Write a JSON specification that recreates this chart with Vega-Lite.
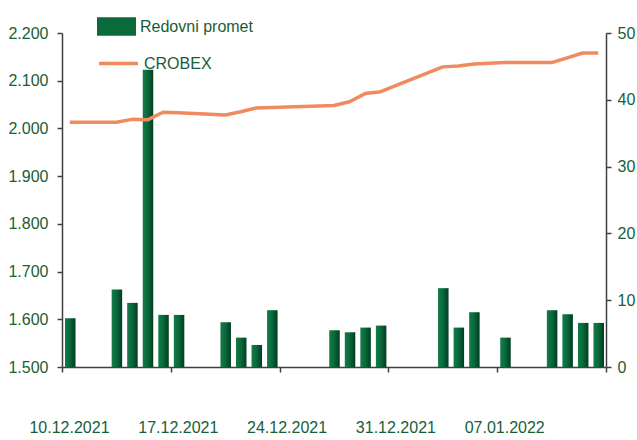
{
  "$schema": "https://vega.github.io/schema/vega-lite/v6.json",
  "width": 544,
  "height": 334,
  "autosize": "none",
  "padding": {"left": 62, "top": 33, "right": 31, "bottom": 73},
  "background": "white",
  "config": {
    "view": {"stroke": null},
    "font": "Liberation Sans, Arial, sans-serif",
    "axis": {
      "grid": false,
      "domainColor": "#404040",
      "domainWidth": 1.5,
      "tickColor": "#404040",
      "tickWidth": 1.5,
      "tickSize": 5,
      "labelColor": "#175e38",
      "labelFontSize": 16,
      "labelFont": "Liberation Sans, Arial, sans-serif",
      "labelOverlap": false,
      "labelFlush": false,
      "title": null
    },
    "legend": {
      "labelColor": "#175e38",
      "labelFontSize": 16,
      "labelFont": "Liberation Sans, Arial, sans-serif",
      "padding": 0,
      "title": null
    }
  },
  "datasets": {
    "promet": [
      {"date": "2021-12-10", "promet": 7.3},
      {"date": "2021-12-13", "promet": 11.6},
      {"date": "2021-12-14", "promet": 9.6},
      {"date": "2021-12-15", "promet": 44.5},
      {"date": "2021-12-16", "promet": 7.8},
      {"date": "2021-12-17", "promet": 7.8},
      {"date": "2021-12-20", "promet": 6.7},
      {"date": "2021-12-21", "promet": 4.4},
      {"date": "2021-12-22", "promet": 3.3},
      {"date": "2021-12-23", "promet": 8.5},
      {"date": "2021-12-27", "promet": 5.5},
      {"date": "2021-12-28", "promet": 5.2},
      {"date": "2021-12-29", "promet": 5.9},
      {"date": "2021-12-30", "promet": 6.2},
      {"date": "2022-01-03", "promet": 11.8},
      {"date": "2022-01-04", "promet": 5.9},
      {"date": "2022-01-05", "promet": 8.2},
      {"date": "2022-01-07", "promet": 4.4},
      {"date": "2022-01-10", "promet": 8.5},
      {"date": "2022-01-11", "promet": 7.9},
      {"date": "2022-01-12", "promet": 6.6},
      {"date": "2022-01-13", "promet": 6.6}
    ],
    "crobex": [
      {"date": "2021-12-10", "crobex": 2013},
      {"date": "2021-12-13", "crobex": 2013},
      {"date": "2021-12-14", "crobex": 2019},
      {"date": "2021-12-15", "crobex": 2018},
      {"date": "2021-12-16", "crobex": 2034},
      {"date": "2021-12-17", "crobex": 2033},
      {"date": "2021-12-20", "crobex": 2028},
      {"date": "2021-12-21", "crobex": 2035},
      {"date": "2021-12-22", "crobex": 2043},
      {"date": "2021-12-23", "crobex": 2044},
      {"date": "2021-12-27", "crobex": 2048},
      {"date": "2021-12-28", "crobex": 2056},
      {"date": "2021-12-29", "crobex": 2073},
      {"date": "2021-12-30", "crobex": 2077},
      {"date": "2022-01-03", "crobex": 2129},
      {"date": "2022-01-04", "crobex": 2131},
      {"date": "2022-01-05", "crobex": 2135},
      {"date": "2022-01-07", "crobex": 2138},
      {"date": "2022-01-10", "crobex": 2138},
      {"date": "2022-01-11", "crobex": 2148},
      {"date": "2022-01-12", "crobex": 2158},
      {"date": "2022-01-13", "crobex": 2158}
    ]
  },
  "layer": [
    {
      "data": {"name": "promet"},
      "mark": {"type": "bar", "width": {"band": 0.74}},
      "encoding": {
        "x": {
          "field": "date",
          "type": "temporal",
          "timeUnit": "utcyearmonthdate",
          "scale": {
            "type": "utc",
            "domain": [
              {"year": 2021, "month": 12, "date": 10, "utc": true},
              {"year": 2022, "month": 1, "date": 14, "utc": true}
            ]
          },
          "axis": {
            "orient": "bottom",
            "values": [
              {"year": 2021, "month": 12, "date": 10, "utc": true},
              {"year": 2021, "month": 12, "date": 17, "utc": true},
              {"year": 2021, "month": 12, "date": 24, "utc": true},
              {"year": 2021, "month": 12, "date": 31, "utc": true},
              {"year": 2022, "month": 1, "date": 7, "utc": true},
              {"year": 2022, "month": 1, "date": 14, "utc": true}
            ],
            "labelExpr": "datum.value > utc(2022,0,12) ? '' : utcFormat(datum.value, '%d.%m.%Y')",
            "labelPadding": 47,
            "labelOffset": 7,
            "labelBaseline": "top",
            "labelFontSize": 16
          }
        },
        "y": {
          "field": "promet",
          "type": "quantitative",
          "scale": {"domain": [0, 50], "nice": false},
          "axis": {"orient": "right", "values": [0, 10, 20, 30, 40, 50], "labelPadding": 6}
        },
        "fill": {
          "datum": "Redovni promet",
          "scale": {"range": ["#0a6a3c"]},
          "condition": {
            "test": "true",
            "value": {"gradient": "linear", "x1": 0, "y1": 0, "x2": 1, "y2": 0,
              "stops": [
                {"offset": 0, "color": "#137c49"},
                {"offset": 0.45, "color": "#0a6a3c"},
                {"offset": 1, "color": "#013d20"}
              ]}
          },
          "legend": {
            "orient": "none",
            "legendX": 35,
            "legendY": -26,
            "symbolType": "M-1,-0.47H1V0.47H-1Z",
            "symbolSize": 1521,
            "symbolStrokeWidth": 0,
            "labelOffset": 4
          }
        }
      }
    },
    {
      "data": {"name": "crobex"},
      "mark": {"type": "line", "strokeWidth": 3.5, "strokeCap": "butt", "strokeJoin": "round"},
      "encoding": {
        "x": {
          "field": "date",
          "type": "temporal",
          "timeUnit": "utcyearmonthdate",
          "bandPosition": 0.5
        },
        "y": {
          "field": "crobex",
          "type": "quantitative",
          "scale": {"domain": [1500, 2200], "nice": false},
          "axis": {
            "orient": "left",
            "values": [1500, 1600, 1700, 1800, 1900, 2000, 2100, 2200],
            "labelExpr": "replace(format(datum.value, ','), ',', '.')",
            "labelPadding": 9
          }
        },
        "stroke": {
          "datum": "CROBEX",
          "scale": {"range": ["#ef8b5f"]},
          "legend": {
            "orient": "none",
            "legendX": 35,
            "legendY": 9,
            "symbolType": "stroke",
            "symbolSize": 1521,
            "symbolStrokeWidth": 3.5,
            "labelOffset": 4
          }
        }
      }
    }
  ],
  "resolve": {"scale": {"y": "independent"}}
}
